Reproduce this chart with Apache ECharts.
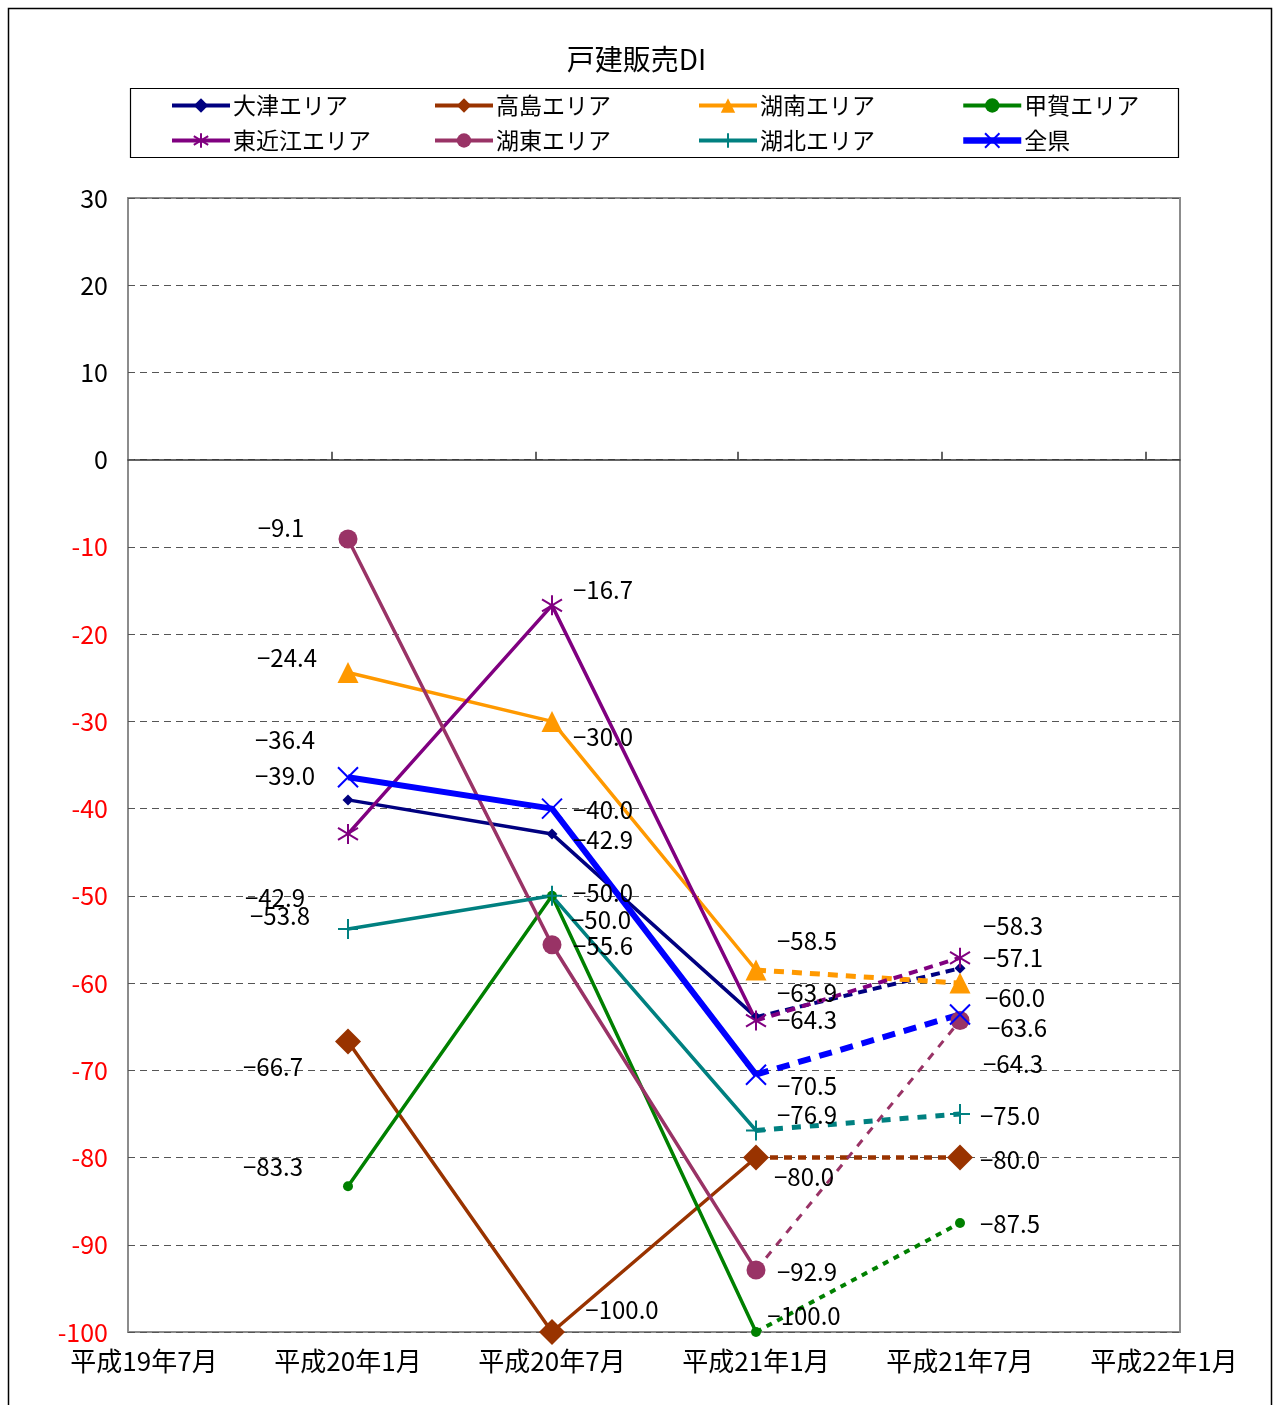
<!DOCTYPE html>
<html>
<head>
<meta charset="utf-8">
<title>戸建販売DI</title>
<script src="https://cdn.jsdelivr.net/npm/echarts@6/dist/echarts.min.js"></script>
<style>
  html, body { margin: 0; padding: 0; background: #fff; }
  #chart { width: 1273px; height: 1405px; }
</style>
</head>
<body>
<div id="chart"></div>
<script>
// x positions: 0 = 平成19年7月 ... 5 = 平成22年1月
var categories = ["平成19年7月", "平成20年1月", "平成20年7月", "平成21年1月", "平成21年7月", "平成22年1月"];
var periods = [1, 2, 3, 4];

var otsu = [-39.0, -42.9, -63.9, -58.3];
var takashima = [-66.7, -100.0, -80.0, -80.0];
var konan = [-24.4, -30.0, -58.5, -60.0];
var koka = [-83.3, -50.0, -100.0, -87.5];
var higashiOmi = [-42.9, -16.7, -64.3, -57.1];
var koto = [-9.1, -55.6, -92.9, -64.3];
var kohoku = [-53.8, -50.0, -76.9, -75.0];
var zenken = [-36.4, -40.0, -70.5, -63.6];

var yTicks = [-100, -90, -80, -70, -60, -50, -40, -30, -20, -10, 0, 10, 20, 30];

// look of each area line
var symAsterisk = "path://M10,0L10,20M1,4L19,16M1,16L19,4";
var symCross = "path://M0,0L20,20M0,20L20,0";
var symPlus = "path://M10,0L10,20M0,10L20,10";

var areas = [
    { name: "大津エリア", values: otsu, color: "#000080", symbol: "diamond", size: 11, stroke: 0, width: 3.5, dashWidth: 4, dash: [9, 6] },
    { name: "高島エリア", values: takashima, color: "#993300", symbol: "diamond", size: 26, stroke: 0, width: 3.5, dashWidth: 4.5, dash: [8, 6] },
    { name: "湖南エリア", values: konan, color: "#FF9900", symbol: "triangle", size: 21, stroke: 0, width: 3.5, dashWidth: 5, dash: [10, 8] },
    { name: "甲賀エリア", values: koka, color: "#008000", symbol: "circle", size: 10, stroke: 0, width: 3.5, dashWidth: 4, dash: [6, 6] },
    { name: "東近江エリア", values: higashiOmi, color: "#800080", symbol: symAsterisk, size: 20, stroke: 2, width: 3.5, dashWidth: 4, dash: [9, 7] },
    { name: "湖東エリア", values: koto, color: "#993366", symbol: "circle", size: 19, stroke: 0, width: 3.5, dashWidth: 3, dash: [8, 8] },
    { name: "湖北エリア", values: kohoku, color: "#008080", symbol: symPlus, size: 20, stroke: 2, width: 3.5, dashWidth: 5, dash: [9, 9] },
    { name: "全県", values: zenken, color: "#0000FF", symbol: symCross, size: 20, stroke: 2, width: 6, dashWidth: 6, dash: [13, 9] }
];

// where each data label sits, relative to its point (px)
var labelOffsets = {
    "大津エリア": [[-63, -24], [51, 6], [51, -24], [53, -42]],
    "高島エリア": [[-75, 25], [70, -22], [48, 19], [50, 2]],
    "湖南エリア": [[-61, -15], [51, 15], [51, -29], [55, 15]],
    "甲賀エリア": [[-75, -19], [51, -3], [48, -16], [50, 1]],
    "東近江エリア": [[-73, 64], [51, -15], [51, -1], [53, 0]],
    "湖東エリア": [[-67, -11], [51, 1], [51, 2], [53, 43]],
    "湖北エリア": [[-68, -13], [49, 24], [51, -16], [50, 2]],
    "全県": [[-63, -37], [51, 1], [51, 11], [57, 13]]
};

var fontFamily = "'Noto Sans CJK JP', 'Noto Sans', sans-serif";

function fmtValue(v)
{
    return (v < 0 ? "\u2212" : "") + Math.abs(v).toFixed(1);
}

function point(area, i)
{
    return {
        value: [periods[i], area.values[i]],
        label: {
            show: true,
            position: "inside",
            offset: labelOffsets[area.name][i],
            formatter: fmtValue(area.values[i])
        }
    };
}

function findArea(name)
{
    for (var i = 0; i < areas.length; i++) {
        if (areas[i].name == name) {
            return areas[i];
        }
    }
    return null;
}

function buildSeries()
{
    var list = [];

    areas.forEach(function(area) {
        var base = {
            type: "line",
            name: area.name,
            symbol: area.symbol,
            symbolSize: area.size,
            itemStyle: { color: area.color, borderColor: area.color, borderWidth: area.stroke },
            label: { color: "#000", fontSize: 24, fontFamily: fontFamily },
            emphasis: { disabled: true },
            animation: false
        };

        // solid part: first three readings
        list.push(Object.assign({}, base, {
            lineStyle: { color: area.color, width: area.width, type: "solid" },
            data: [point(area, 0), point(area, 1), point(area, 2)]
        }));

        // dashed part: forecast
        var last = point(area, 3);
        list.push(Object.assign({}, base, {
            lineStyle: { color: area.color, width: area.dashWidth, type: area.dash },
            data: [{ value: [periods[2], area.values[2]], symbolSize: 0 }, last]
        }));
    });

    return list;
}

function legendColumn(left, names)
{
    return {
        orient: "vertical",
        left: left,
        top: 89,
        itemWidth: 58,
        itemHeight: 18,
        itemGap: 12,
        data: names.map(function(name) {
            var area = findArea(name);
            return { name: name, lineStyle: { width: area.width + 0.5 } };
        }),
        selectedMode: false,
        textStyle: { fontSize: 23, lineHeight: 22, color: "#000", fontFamily: fontFamily, padding: [0, 0, 0, -2] }
    };
}

var xMin = -0.0784;
var xMax = 5.0784;

var option = {
    animation: false,
    backgroundColor: "#fff",
    textStyle: { fontFamily: fontFamily },
    title: {
        text: "戸建販売DI",
        left: "center",
        top: 40,
        textStyle: { fontSize: 28, fontWeight: "normal", color: "#000", fontFamily: fontFamily }
    },
    legend: [
        legendColumn(165, ["大津エリア", "東近江エリア"]),
        legendColumn(428, ["高島エリア", "湖東エリア"]),
        legendColumn(692, ["湖南エリア", "湖北エリア"]),
        legendColumn(955, ["甲賀エリア", "全県"])
    ],
    graphic: [
        { type: "rect", shape: { x: 8.5, y: 8.5, width: 1263, height: 1420 }, style: { fill: null, stroke: "#000", lineWidth: 1.5 }, z: 0 },
        { type: "rect", shape: { x: 130.5, y: 88.5, width: 1048, height: 69 }, style: { fill: null, stroke: "#000", lineWidth: 1.2 }, z: 0 }
    ],
    grid: {
        left: 128,
        top: 198,
        width: 1052,
        height: 1134,
        show: true,
        borderColor: "#8c8c8c",
        borderWidth: 2,
        containLabel: false
    },
    xAxis: [
        {
            type: "value",
            min: xMin,
            max: xMax,
            axisLine: { onZero: true, lineStyle: { color: "#333", width: 1.5 } },
            axisTick: { show: true, inside: true, length: 8, customValues: [0.92, 1.92, 2.91, 3.91, 4.91], lineStyle: { color: "#333", width: 1.5 } },
            axisLabel: { show: false },
            splitLine: { show: false }
        },
        {
            type: "value",
            min: xMin,
            max: xMax,
            position: "bottom",
            axisLine: { show: false, onZero: false },
            axisTick: { show: false },
            splitLine: { show: false },
            axisLabel: {
                show: true,
                customValues: [0, 1, 2, 3, 4, 5],
                margin: 16,
                fontSize: 26,
                color: "#000",
                fontFamily: fontFamily,
                formatter: function(v) { return categories[Math.round(v)]; }
            }
        }
    ],
    yAxis: {
        type: "value",
        min: yTicks[0],
        max: yTicks[yTicks.length - 1],
        interval: 10,
        axisLine: { show: true, onZero: false, lineStyle: { color: "#8c8c8c", width: 2 } },
        axisTick: { show: true, inside: true, length: 6, lineStyle: { color: "#555" } },
        axisLabel: {
            margin: 20,
            fontSize: 25,
            fontFamily: fontFamily,
            color: function(v) { return Number(v) < 0 ? "#FF0000" : "#000"; }
        },
        splitLine: { show: true, lineStyle: { color: "#555", width: 1, type: [7, 5] } }
    },
    series: buildSeries()
};

var chart = echarts.init(document.getElementById("chart"), null, { renderer: "canvas" });
chart.setOption(option);
</script>
</body>
</html>
